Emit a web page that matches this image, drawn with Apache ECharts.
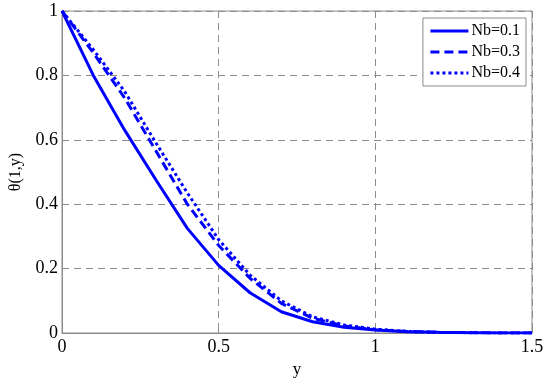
<!DOCTYPE html>
<html>
<head>
<meta charset="utf-8">
<script src="https://cdn.jsdelivr.net/npm/echarts@6/dist/echarts.min.js"></script>
<style>
  html, body { margin: 0; padding: 0; background: #fff; }
  #chart { width: 550px; height: 383px; }
</style>
</head>
<body>
<div id="chart"></div>
<script>
// y positions along the x axis
const yPos = [0, 0.1, 0.2, 0.3, 0.4, 0.5, 0.6, 0.7, 0.8, 0.9, 1.0, 1.1, 1.2, 1.3, 1.4, 1.5];
// theta(1,y) for each Nb
const nb01 = [1, 0.80, 0.63, 0.475, 0.325, 0.21, 0.125, 0.066, 0.035, 0.018, 0.009, 0.004, 0.002, 0.001, 0, 0];
const nb03 = [1, 0.87, 0.73, 0.565, 0.40, 0.272, 0.17, 0.092, 0.046, 0.022, 0.01, 0.005, 0.002, 0.001, 0, 0];
const nb04 = [1, 0.88, 0.75, 0.59, 0.435, 0.29, 0.18, 0.10, 0.05, 0.025, 0.012, 0.005, 0.002, 0.001, 0, 0];
const names = ['Nb=0.1', 'Nb=0.3', 'Nb=0.4'];

const font = 'Liberation Serif, Times New Roman, serif';
const pair = arr => yPos.map((x, i) => [x, arr[i]]);

const chart = echarts.init(document.getElementById('chart'));
chart.setOption({
  animation: false,
  grid: {
    left: 53, right: 18, top: 11, bottom: 50,
    show: true, borderColor: '#8c8c8c', borderWidth: 1
  },
  legend: {
    right: 24, top: 18,
    orient: 'vertical',
    itemWidth: 38, itemHeight: 10, itemGap: 5,
    padding: [5, 6, 5, 6],
    borderColor: '#8c8c8c', borderWidth: 1, borderRadius: 0,
    backgroundColor: '#fff',
    itemStyle: { opacity: 0 },
    lineStyle: { width: 3 },
    textStyle: { fontFamily: font, fontSize: 16, color: '#000', padding: [0, 0, 0, -2] },
    data: names
  },
  xAxis: {
    type: 'value', min: 0, max: 1.5, interval: 0.5,
    name: 'y', nameLocation: 'middle', nameGap: 28,
    nameTextStyle: { fontFamily: font, fontSize: 17, color: '#000' },
    axisLine: { lineStyle: { color: '#8c8c8c' } },
    axisTick: { inside: true, length: 4, lineStyle: { color: '#8c8c8c' } },
    axisLabel: { fontFamily: font, fontSize: 18, color: '#000', margin: 5 },
    splitLine: { show: true, lineStyle: { color: '#8c8c8c', type: [7, 5] } }
  },
  yAxis: {
    type: 'value', min: 0, max: 1, interval: 0.2,
    name: 'θ(1,y)', nameLocation: 'middle', nameGap: 38,
    nameTextStyle: { fontFamily: font, fontSize: 16, color: '#000' },
    axisLine: { show: true, lineStyle: { color: '#8c8c8c' } },
    axisTick: { show: true, inside: true, length: 4, lineStyle: { color: '#8c8c8c' } },
    axisLabel: { fontFamily: font, fontSize: 18, color: '#000', margin: 4 },
    splitLine: { show: true, lineStyle: { color: '#8c8c8c', type: [7, 5] } }
  },
  series: [
    { name: names[0], type: 'line', data: pair(nb01), showSymbol: false, symbol: 'none',
      lineStyle: { color: '#0000ff', width: 3, type: 'solid' }, itemStyle: { color: '#0000ff' } },
    { name: names[1], type: 'line', data: pair(nb03), showSymbol: false, symbol: 'none',
      lineStyle: { color: '#0000ff', width: 3, type: [9, 5] }, itemStyle: { color: '#0000ff' } },
    { name: names[2], type: 'line', data: pair(nb04), showSymbol: false, symbol: 'none',
      lineStyle: { color: '#0000ff', width: 3, type: [3, 3] }, itemStyle: { color: '#0000ff' } }
  ]
});
</script>
</body>
</html>
